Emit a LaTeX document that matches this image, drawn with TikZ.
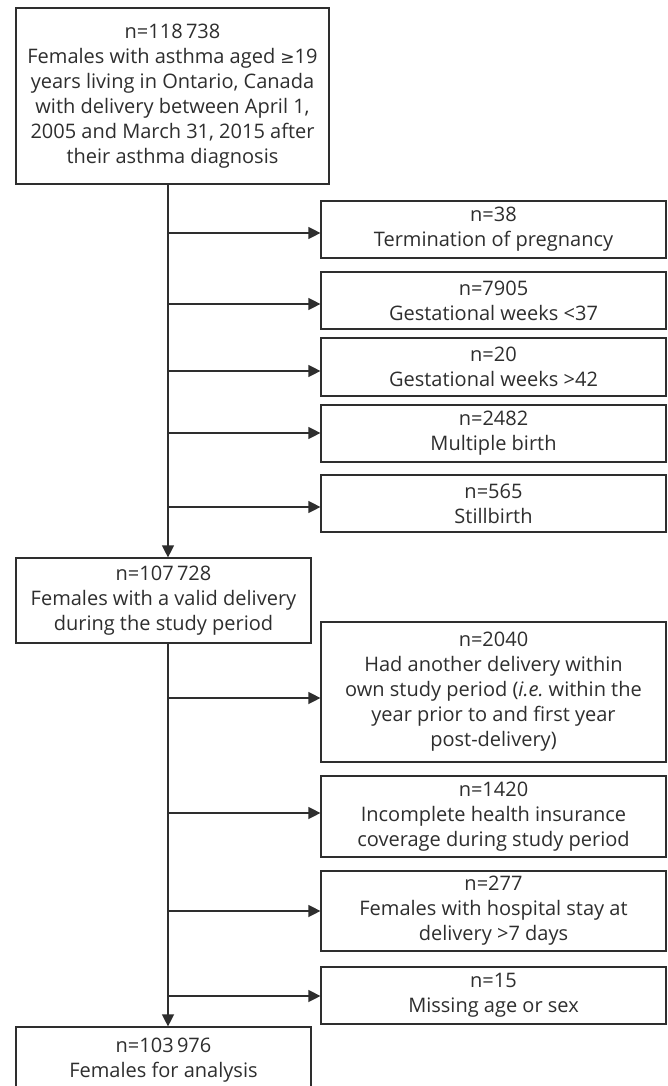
\documentclass[tikz,border=0pt]{standalone}
\usepackage{fontspec}
\setmainfont{Open Sans}
\newfontfamily\symfont{DejaVu Sans}
\usetikzlibrary{arrows.meta}
\definecolor{ink}{HTML}{2E2E2E}
\begin{document}
\begin{tikzpicture}[x=1pt,y=-1pt,
  box/.style={draw=ink, line width=1.2pt, text=ink, align=center, inner sep=0pt,
    font=\fontsize{20}{25}\selectfont},
  sidebox/.style={box, minimum width=345pt},
  mainbox/.style={box, minimum width=295pt},
  arr/.style={draw=ink, line width=1.3pt, -{Triangle[length=12pt,width=12pt]}}]
\clip (0,0) rectangle (668,1086);
\fill[white] (0,0) rectangle (668,1086);
% main column
\node[box, minimum width=313pt, minimum height=176pt] (b1) at (172.5,96)
  {n=118\,738\\Females with asthma aged {\symfont\fontsize{17}{25}\selectfont ≥}19\\years living in Ontario, Canada\\with delivery between April 1,\\2005 and March 31, 2015 after\\their asthma diagnosis};
\node[mainbox, minimum height=85pt] (b2) at (163.5,600.5)
  {n=107\,728\\Females with a valid delivery\\during the study period};
\node[mainbox, minimum height=66pt] (b3) at (163.5,1060)
  {n=103\,976\\Females for analysis};
% exclusion boxes, first group
\node[sidebox, minimum height=57pt] (e1) at (493.5,229.5) {n=38\\Termination of pregnancy};
\node[sidebox, minimum height=57pt] (e2) at (493.5,300.5) {n=7905\\Gestational weeks <37};
\node[sidebox, minimum height=58pt] (e3) at (493.5,367) {n=20\\Gestational weeks >42};
\node[sidebox, minimum height=57pt] (e4) at (493.5,433.5) {n=2482\\Multiple birth};
\node[sidebox, minimum height=57pt] (e5) at (493.5,503.5) {n=565\\Stillbirth};
% exclusion boxes, second group
\node[sidebox, minimum height=140pt] (f1) at (493.5,692)
  {n=2040\\Had another delivery within\\own study period (\textit{i.e.}\ within the\\year prior to and first year\\post-delivery)};
\node[sidebox, minimum height=81pt] (f2) at (493.5,816.5)
  {n=1420\\Incomplete health insurance\\coverage during study period};
\node[sidebox, minimum height=80pt] (f3) at (493.5,911)
  {n=277\\Females with hospital stay at\\delivery >7 days};
\node[sidebox, minimum height=57pt] (f4) at (493.5,995.5) {n=15\\Missing age or sex};
% spine
\coordinate (s) at (168,0);
\draw[arr] (b1.south -| s) -- (b2.north -| s);
\draw[arr] (b2.south -| s) -- (b3.north -| s);
% branch points
\coordinate (a1) at (168,233);
\coordinate (a2) at (168,304);
\coordinate (a3) at (168,371);
\coordinate (a4) at (168,433);
\coordinate (a5) at (168,507);
\coordinate (c1) at (168,698);
\coordinate (c2) at (168,813);
\coordinate (c3) at (168,911);
\coordinate (c4) at (168,996);
\draw[arr] (a1) -- (a1 -| e1.west);
\draw[arr] (a2) -- (a2 -| e2.west);
\draw[arr] (a3) -- (a3 -| e3.west);
\draw[arr] (a4) -- (a4 -| e4.west);
\draw[arr] (a5) -- (a5 -| e5.west);
\draw[arr] (c1) -- (c1 -| f1.west);
\draw[arr] (c2) -- (c2 -| f2.west);
\draw[arr] (c3) -- (c3 -| f3.west);
\draw[arr] (c4) -- (c4 -| f4.west);
\end{tikzpicture}
\end{document}
